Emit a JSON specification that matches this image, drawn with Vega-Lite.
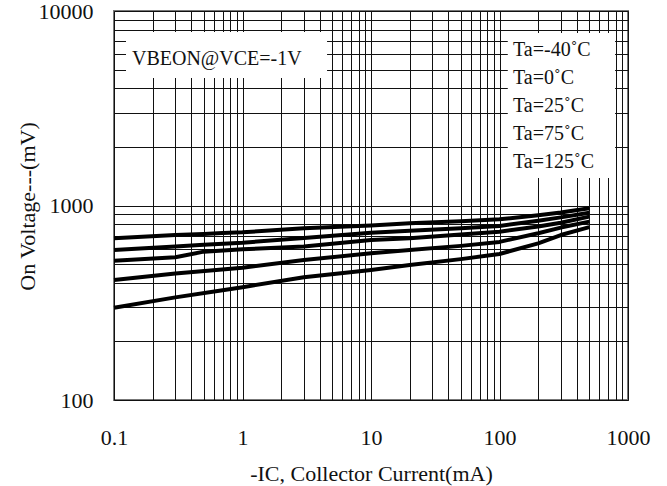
{
  "$schema": "https://vega.github.io/schema/vega-lite/v6.json",
  "width": 514,
  "height": 389,
  "autosize": {"type": "none"},
  "padding": {"left": 114, "top": 11, "right": 39, "bottom": 86},
  "background": "white",
  "config": {
    "view": {"stroke": "#777", "strokeWidth": 2},
    "font": "Liberation Serif"
  },
  "datasets": {
    "curves": [
      {"Ta": "-40", "ic": 0.1, "v": 678}, {"Ta": "-40", "ic": 0.3, "v": 705}, {"Ta": "-40", "ic": 0.5, "v": 714}, {"Ta": "-40", "ic": 0.7, "v": 722}, {"Ta": "-40", "ic": 1, "v": 728}, {"Ta": "-40", "ic": 3, "v": 763}, {"Ta": "-40", "ic": 10, "v": 790}, {"Ta": "-40", "ic": 20, "v": 810}, {"Ta": "-40", "ic": 50, "v": 830}, {"Ta": "-40", "ic": 100, "v": 849}, {"Ta": "-40", "ic": 200, "v": 890}, {"Ta": "-40", "ic": 300, "v": 920}, {"Ta": "-40", "ic": 500, "v": 967},
      {"Ta": "0", "ic": 0.1, "v": 590}, {"Ta": "0", "ic": 0.3, "v": 615}, {"Ta": "0", "ic": 0.5, "v": 629}, {"Ta": "0", "ic": 1, "v": 644}, {"Ta": "0", "ic": 3, "v": 680}, {"Ta": "0", "ic": 10, "v": 725}, {"Ta": "0", "ic": 20, "v": 742}, {"Ta": "0", "ic": 50, "v": 765}, {"Ta": "0", "ic": 100, "v": 785}, {"Ta": "0", "ic": 200, "v": 835}, {"Ta": "0", "ic": 300, "v": 869}, {"Ta": "0", "ic": 500, "v": 918},
      {"Ta": "25", "ic": 0.1, "v": 520}, {"Ta": "25", "ic": 0.3, "v": 542}, {"Ta": "25", "ic": 0.5, "v": 579}, {"Ta": "25", "ic": 1, "v": 595}, {"Ta": "25", "ic": 3, "v": 616}, {"Ta": "25", "ic": 10, "v": 665}, {"Ta": "25", "ic": 20, "v": 678}, {"Ta": "25", "ic": 50, "v": 710}, {"Ta": "25", "ic": 100, "v": 733}, {"Ta": "25", "ic": 200, "v": 780}, {"Ta": "25", "ic": 300, "v": 816}, {"Ta": "25", "ic": 500, "v": 877},
      {"Ta": "75", "ic": 0.1, "v": 414}, {"Ta": "75", "ic": 0.3, "v": 447}, {"Ta": "75", "ic": 1, "v": 479}, {"Ta": "75", "ic": 3, "v": 524}, {"Ta": "75", "ic": 10, "v": 568}, {"Ta": "75", "ic": 20, "v": 590}, {"Ta": "75", "ic": 50, "v": 620}, {"Ta": "75", "ic": 100, "v": 650}, {"Ta": "75", "ic": 200, "v": 720}, {"Ta": "75", "ic": 300, "v": 770}, {"Ta": "75", "ic": 500, "v": 826},
      {"Ta": "125", "ic": 0.1, "v": 298}, {"Ta": "125", "ic": 0.3, "v": 337}, {"Ta": "125", "ic": 0.7, "v": 367}, {"Ta": "125", "ic": 1, "v": 380}, {"Ta": "125", "ic": 3, "v": 428}, {"Ta": "125", "ic": 10, "v": 466}, {"Ta": "125", "ic": 20, "v": 494}, {"Ta": "125", "ic": 50, "v": 530}, {"Ta": "125", "ic": 100, "v": 563}, {"Ta": "125", "ic": 200, "v": 639}, {"Ta": "125", "ic": 300, "v": 705}, {"Ta": "125", "ic": 500, "v": 774}
    ]
  },
  "layer": [
    {
      "data": {"name": "curves"},
      "mark": {"type": "line", "color": "black", "strokeWidth": 4, "strokeJoin": "round", "strokeCap": "butt"},
      "encoding": {
        "x": {
          "field": "ic", "type": "quantitative",
          "scale": {"type": "log", "domain": [0.1, 1000], "nice": false},
          "axis": {
            "title": "-IC, Collector Current(mA)",
            "values": [0.1,0.2,0.3,0.4,0.5,0.6,0.7,0.8,0.9,1,2,3,4,5,6,7,8,9,10,20,30,40,50,60,70,80,90,100,200,300,400,500,600,700,800,900,1000],
            "format": "~g",
            "labelExpr": "indexof(['0.1','1','10','100','1000'], datum.label) >= 0 ? datum.label : ''",
            "labelOverlap": false,
            "labelFlush": false,
            "labelBound": false,
            "ticks": false,
            "tickSize": 0,
            "domain": false,
            "grid": true,
            "gridColor": "#111",
            "gridWidth": 1,
            "labelFont": "Liberation Serif",
            "labelFontSize": 22,
            "labelColor": "#111",
            "labelBaseline": "middle",
            "labelPadding": 37,
            "titleFont": "Liberation Serif",
            "titleFontSize": 22,
            "titleFontWeight": "normal",
            "titleColor": "#111",
            "titleBaseline": "middle",
            "titleY": 73,
            "titleX": 257
          }
        },
        "y": {
          "field": "v", "type": "quantitative",
          "scale": {"type": "log", "domain": [100, 10000], "nice": false},
          "axis": {
            "title": "On Voltage---(mV)",
            "values": [100,200,300,400,500,600,700,800,900,1000,2000,3000,4000,5000,6000,7000,8000,9000,10000],
            "format": "~g",
            "labelExpr": "indexof(['100','1000','10000'], datum.label) >= 0 ? datum.label : ''",
            "labelOverlap": false,
            "labelFlush": false,
            "labelBound": false,
            "ticks": false,
            "tickSize": 0,
            "domain": false,
            "grid": true,
            "gridColor": "#111",
            "gridWidth": 1,
            "labelFont": "Liberation Serif",
            "labelFontSize": 22,
            "labelColor": "#111",
            "labelPadding": 21,
            "titleFont": "Liberation Serif",
            "titleFontSize": 22,
            "titleFontWeight": "normal",
            "titleColor": "#111",
            "titleBaseline": "middle",
            "titleX": -87,
            "titleY": 195
          }
        },
        "detail": {"field": "Ta", "type": "nominal"}
      }
    },
    {
      "data": {"values": [{}]},
      "mark": {"type": "rect", "fill": "white", "strokeWidth": 0},
      "encoding": {
        "x": {"datum": 0.124, "type": "quantitative", "scale": {"type": "log", "domain": [0.1, 1000], "nice": false}},
        "x2": {"datum": 4.55},
        "y": {"datum": 7800, "type": "quantitative", "scale": {"type": "log", "domain": [100, 10000], "nice": false}},
        "y2": {"datum": 4523}
      }
    },
    {
      "data": {"values": [{}]},
      "mark": {"type": "rect", "fill": "white", "strokeWidth": 0},
      "encoding": {
        "x": {"datum": 116, "type": "quantitative", "scale": {"type": "log", "domain": [0.1, 1000], "nice": false}},
        "x2": {"datum": 793},
        "y": {"datum": 7706, "type": "quantitative", "scale": {"type": "log", "domain": [100, 10000], "nice": false}},
        "y2": {"datum": 1384}
      }
    },
    {
      "data": {"values": [{}]},
      "mark": {"type": "text", "text": "VBEON@VCE=-1V", "align": "left", "baseline": "middle", "font": "Liberation Serif", "fontSize": 20, "color": "#111"},
      "encoding": {
        "x": {"datum": 0.138, "type": "quantitative", "scale": {"type": "log", "domain": [0.1, 1000], "nice": false}},
        "y": {"datum": 5665, "type": "quantitative", "scale": {"type": "log", "domain": [100, 10000], "nice": false}}
      }
    },
    {
      "data": {"values": [{}]},
      "mark": {"type": "text", "text": ["Ta=-40˚C", "Ta=0˚C", "Ta=25˚C", "Ta=75˚C", "Ta=125˚C"], "lineHeight": 28, "align": "left", "baseline": "middle", "font": "Liberation Serif", "fontSize": 20, "color": "#111"},
      "encoding": {
        "x": {"datum": 127.4, "type": "quantitative", "scale": {"type": "log", "domain": [0.1, 1000], "nice": false}},
        "y": {"datum": 6300, "type": "quantitative", "scale": {"type": "log", "domain": [100, 10000], "nice": false}}
      }
    }
  ]
}
